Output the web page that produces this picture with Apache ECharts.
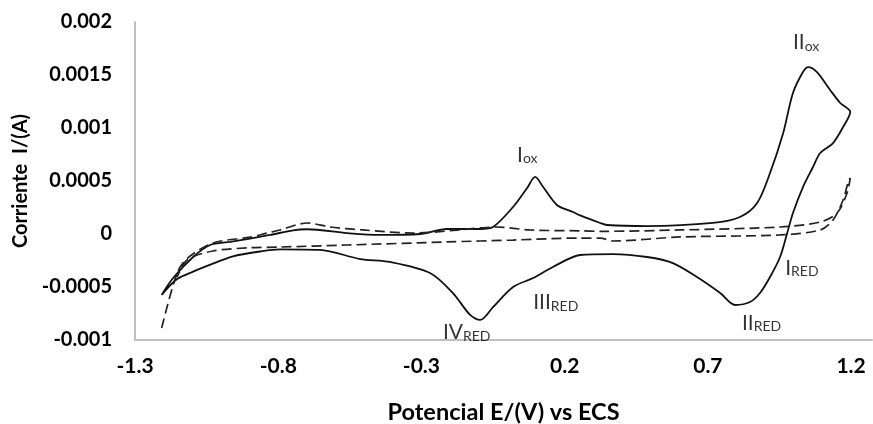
<!DOCTYPE html>
<html>
  <head>
    <meta charset="utf-8">
    <title>Voltametria ciclica</title>
    <script src="https://cdn.jsdelivr.net/npm/echarts@6/dist/echarts.min.js"></script>
    <style>
      html, body { margin: 0; padding: 0; background: #fff; }
      #main { width: 873px; height: 424px; }
    </style>
  </head>
  <body>
    <div id="main"></div>
    <script type="text/javascript">
      // curva continua (E en V, I en A), ida y vuelta
      var solidE = [-1.207, -1.167, -1.097, -1.038, -0.968, -0.829, -0.748, -0.699, -0.560, -0.445, -0.305, -0.211, -0.095, -0.050,
        0.020, 0.069, 0.097, 0.125, 0.173, 0.229, 0.254, 0.324, 0.348, 0.488, 0.718, 0.812, 0.872, 0.917, 0.963, 0.997,
        1.032, 1.050, 1.081, 1.127, 1.162, 1.197,
        1.172, 1.137, 1.092, 1.067, 1.032, 0.997, 0.977, 0.952, 0.917, 0.882, 0.847, 0.795, 0.743, 0.662, 0.578, 0.488,
        0.369, 0.254, 0.159, 0.090, 0.020, -0.050, -0.095, -0.130, -0.190, -0.270, -0.410, -0.514, -0.654, -0.794,
        -0.864, -0.958, -1.028, -1.097, -1.153, -1.207];
      var solidI = [-5.75e-4, -4.15e-4, -2.17e-4, -1.04e-4, -0.75e-4, -0.09e-4, 0.35e-4, 0.45e-4, 0.09e-4, -0.09e-4, 0.0, 0.47e-4, 0.47e-4, 0.66e-4,
        2.55e-4, 4.34e-4, 5.38e-4, 4.43e-4, 2.74e-4, 2.08e-4, 1.75e-4, 1.04e-4, 0.85e-4, 0.75e-4, 1.04e-4, 1.60e-4, 2.92e-4, 5.75e-4, 9.53e-4, 13.30e-4,
        15.28e-4, 15.75e-4, 15.28e-4, 13.58e-4, 12.36e-4, 11.51e-4,
        10.09e-4, 8.58e-4, 7.64e-4, 6.32e-4, 4.43e-4, 1.98e-4, 0.09e-4, -2.17e-4, -4.06e-4, -5.57e-4, -6.42e-4, -6.70e-4, -5.57e-4, -4.06e-4, -2.74e-4, -2.17e-4,
        -1.89e-4, -1.98e-4, -3.11e-4, -4.15e-4, -5.00e-4, -6.89e-4, -8.11e-4, -7.64e-4, -5.57e-4, -3.68e-4, -2.64e-4, -2.36e-4, -1.50e-4, -1.45e-4,
        -1.65e-4, -2.10e-4, -2.80e-4, -3.55e-4, -4.25e-4, -5.75e-4];

      // curva discontinua (blanco)
      var dashE = [-1.207, -1.153, -1.118, -1.028, -0.898, -0.839, -0.794, -0.699, -0.619, -0.504, -0.329, -0.095, -0.036, 0.079,
        0.254, 0.324, 0.603, 0.952, 1.092, 1.151, 1.186, 1.197,
        1.190, 1.172, 1.137, 1.092, 0.952, 0.603, 0.369, 0.324, 0.254, 0.020, -0.211, -0.560, -0.794, -0.898, -1.028, -1.118, -1.153];
      var dashI = [-8.87e-4, -3.68e-4, -2.30e-4, -0.85e-4, -0.30e-4, 0.09e-4, 0.38e-4, 1.04e-4, 0.66e-4, 0.38e-4, 0.09e-4, 0.57e-4, 0.66e-4, 0.38e-4,
        0.30e-4, 0.25e-4, 0.38e-4, 0.66e-4, 1.13e-4, 1.98e-4, 3.87e-4, 5.28e-4,
        4.91e-4, 3.21e-4, 1.32e-4, 0.38e-4, -0.09e-4, -0.28e-4, -0.66e-4, -0.38e-4, -0.38e-4, -0.57e-4, -0.75e-4, -1.04e-4, -1.23e-4, -1.30e-4, -1.60e-4, -2.45e-4, -4.06e-4];

      // etiquetas de picos
      var peakMain = ['II', 'I', 'I', 'II', 'III', 'IV'];
      var peakSub = ['ox', 'ox', 'RED', 'RED', 'RED', 'RED'];
      var peakE = [0.997, 0.034, 0.970, 0.819, 0.090, -0.225];
      var peakI = [1.82e-3, 7.60e-4, -3.11e-4, -8.25e-4, -6.32e-4, -9.15e-4];

      function zip(a, b) {
        var out = [];
        for (var i = 0; i < a.length; i++) out.push([a[i], b[i]]);
        return out;
      }
      var peaks = [];
      for (var k = 0; k < peakE.length; k++) peaks.push([peakE[k], peakI[k], peakMain[k], peakSub[k]]);

      var font = 'Lato';
      var myChart = echarts.init(document.getElementById('main'));
      myChart.setOption({
        animation: false,
        grid: { left: 135, right: 1, top: 22, bottom: 84, outerBoundsMode: 'none' },
        xAxis: {
          type: 'value',
          min: -1.3, max: 1.273, interval: 0.5,
          name: 'Potencial E/(V) vs ECS',
          nameLocation: 'middle', nameGap: 60,
          nameTextStyle: { fontFamily: font, fontWeight: 'bold', fontSize: 23.5, color: '#000' },
          axisLine: { onZero: false, lineStyle: { color: '#BFBFBF', width: 2 } },
          axisTick: { show: false },
          splitLine: { show: false },
          axisLabel: {
            margin: 16, showMaxLabel: false,
            fontFamily: font, fontWeight: 'bold', fontSize: 21, color: '#000',
            formatter: function (v) { return String(+v.toFixed(1)); }
          }
        },
        yAxis: {
          type: 'value',
          min: -0.001, max: 0.002, interval: 0.0005,
          name: 'Corriente  I/(A)',
          nameLocation: 'middle', nameGap: 103,
          nameTextStyle: { fontFamily: font, fontWeight: 'bold', fontSize: 20, color: '#000' },
          axisLine: { show: true, onZero: false, lineStyle: { color: '#BFBFBF', width: 2 } },
          axisTick: { show: false },
          splitLine: { show: false },
          axisLabel: {
            margin: 23,
            fontFamily: font, fontWeight: 'bold', fontSize: 20, color: '#000',
            formatter: function (v) { return String(+v.toFixed(4)); }
          }
        },
        series: [
          {
            type: 'line', data: zip(solidE, solidI), showSymbol: false, smooth: 0.3,
            lineStyle: { color: '#111', width: 1.8 }
          },
          {
            type: 'line', data: zip(dashE, dashI), showSymbol: false, smooth: 0.3,
            lineStyle: { color: '#222', width: 1.7, type: [10, 5] }
          },
          {
            type: 'scatter', data: peaks, symbolSize: 0,
            label: {
              show: true, position: 'right', distance: 0,
              formatter: function (p) { return '{m|' + p.data[2] + '}{s|' + p.data[3] + '}'; },
              rich: {
                m: { fontFamily: font, fontSize: 21, color: '#000', lineHeight: 24, verticalAlign: 'bottom' },
                s: { fontFamily: font, fontSize: 14, color: '#000', lineHeight: 14, verticalAlign: 'bottom' }
              }
            }
          }
        ]
      });
    </script>
  </body>
</html>
